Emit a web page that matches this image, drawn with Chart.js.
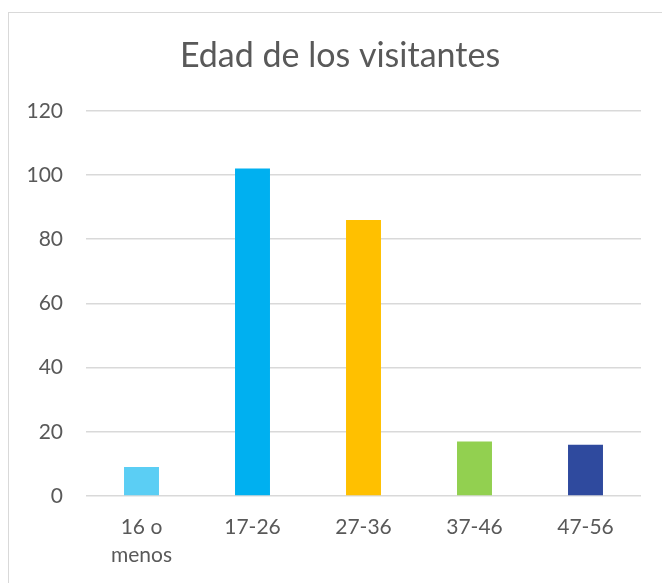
<!DOCTYPE html>
<html>
<head>
<meta charset="utf-8">
<script src="https://cdn.jsdelivr.net/npm/chart.js@4"></script>
<style>
  html, body { margin: 0; padding: 0; background: #fff; overflow: hidden; }
  #wrap { position: relative; width: 662px; height: 583px; }
  #frame { position: absolute; left: 8px; top: 12px; width: 660px; height: 600px; border: 1px solid #d9d9d9; box-sizing: border-box; }
  canvas { position: absolute; left: 0; top: 0; }
</style>
</head>
<body>
<div id="wrap">
  <div id="frame"></div>
  <canvas id="myChart" width="662" height="583"></canvas>
</div>
<script>
// Define the data
var categories = [["16 o", "menos"], "17-26", "27-36", "37-46", "47-56"];
var visitantes = [9, 102, 86, 17, 16];
var barColors = ['#5BCEF4', '#00B0F0', '#FFC000', '#92D050', '#2F4A9E'];
var yTicks = [0, 20, 40, 60, 80, 100, 120];

var textColor = '#595959';
var fontName = 'Lato, "Open Sans", sans-serif';

var ctx = document.getElementById("myChart").getContext('2d');

// the y labels stick out into the left padding, so widen the area they may draw in
var widenYLabels = {
  id: 'widenYLabels',
  afterLayout: function (chart) {
    chart.scales.y.left = 0;
  }
};

// left padding is there to push the title centre to the right, like the original
var options = {
  responsive: false,
  maintainAspectRatio: false,
  animation: false,
  layout: { padding: { left: 39, right: 21, top: 0, bottom: 0 } },
  plugins: {
    legend: { display: false },
    tooltip: { enabled: false },
    title: {
      display: true,
      text: 'Edad de los visitantes',
      color: textColor,
      font: { family: fontName, size: 34, weight: 'normal', lineHeight: 1.2 },
      padding: { top: 36, bottom: 34 }
    }
  },
  scales: {
    x: {
      grid: { display: false, drawTicks: false },
      border: { display: false },
      ticks: {
        color: textColor,
        font: { family: fontName, size: 21, lineHeight: 1.33 },
        padding: 17,
        maxRotation: 0,
        autoSkip: false
      },
      afterFit: function (scale) { scale.height = 87; }
    },
    y: {
      min: 0,
      max: 120,
      afterBuildTicks: function (scale) {
        scale.ticks = yTicks.map(function (v) { return { value: v }; });
      },
      grid: { color: '#d9d9d9', lineWidth: 1.5, drawTicks: false },
      border: { display: false },
      ticks: {
        color: textColor,
        font: { family: fontName, size: 21 },
        padding: 23
      },
      afterFit: function (scale) { scale.width = 47; }
    }
  }
};

var myChart = new Chart(ctx, {
  type: 'bar',
  data: {
    labels: categories,
    datasets: [{
      label: 'Visitantes',
      data: visitantes,
      backgroundColor: barColors,
      borderWidth: 0,
      categoryPercentage: 1,
      barPercentage: 0.315
    }]
  },
  options: options,
  plugins: [widenYLabels]
});
</script>
</body>
</html>
